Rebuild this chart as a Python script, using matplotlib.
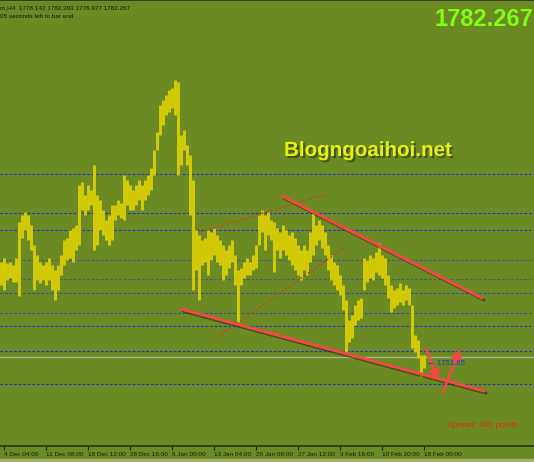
import matplotlib
matplotlib.use("Agg")
import matplotlib.pyplot as plt
import matplotlib.patheffects as pe
from matplotlib.patches import Rectangle

# ---------------- data (4H gold bars, one entry per drawn bar) ----------------
high = [1842.8, 1845.2, 1842.2, 1842.8, 1841.0, 1845.2, 1866.8, 1871.0, 1872.8, 1871.0,
        1865.0, 1853.0, 1847.0, 1842.8, 1841.0, 1842.8, 1845.2, 1841.0, 1838.0, 1841.0,
        1847.0, 1856.0, 1857.2, 1862.0, 1863.2, 1865.0, 1889.0, 1890.8, 1883.0, 1889.0,
        1886.0, 1901.0, 1883.0, 1880.0, 1874.0, 1868.0, 1871.0, 1877.0, 1877.0, 1880.0,
        1878.2, 1895.0, 1892.0, 1889.0, 1886.0, 1889.0, 1892.0, 1889.0, 1892.0, 1895.0,
        1899.2, 1910.0, 1920.8, 1937.0, 1940.0, 1943.0, 1946.0, 1947.2, 1952.0, 1950.8,
        1919.0, 1922.0, 1913.0, 1907.0, 1892.0, 1862.0, 1859.0, 1856.0, 1857.2, 1862.0,
        1860.8, 1863.2, 1859.0, 1856.0, 1853.0, 1850.0, 1853.0, 1856.0, 1847.0, 1838.0,
        1839.2, 1842.8, 1845.2, 1842.8, 1847.0, 1853.0, 1871.0, 1874.0, 1871.0, 1872.8,
        1868.0, 1866.8, 1863.2, 1860.8, 1865.0, 1862.0, 1859.0, 1860.8, 1857.2, 1853.0,
        1850.0, 1853.0, 1850.0, 1860.8, 1872.8, 1865.0, 1868.0, 1865.0, 1860.8, 1853.0,
        1847.0, 1842.8, 1841.0, 1835.0, 1829.0, 1820.0, 1808.0, 1811.0, 1817.0, 1820.0,
        1821.2, 1845.2, 1844.0, 1847.0, 1845.2, 1848.8, 1854.2, 1847.0, 1845.2, 1835.0,
        1829.0, 1826.0, 1827.2, 1830.2, 1826.0, 1829.0, 1827.2, 1817.0, 1799.0, 1796.0,
        1787.0, 1787.0]
low = [1829.0, 1826.0, 1832.0, 1833.2, 1830.8, 1830.8, 1822.4, 1857.2, 1862.0, 1856.0,
       1850.0, 1826.0, 1832.0, 1830.2, 1832.0, 1829.0, 1832.0, 1826.0, 1820.0, 1826.0,
       1835.0, 1841.0, 1844.0, 1845.2, 1842.8, 1850.0, 1853.0, 1874.0, 1871.0, 1874.0,
       1877.0, 1850.0, 1853.0, 1862.0, 1859.0, 1856.0, 1853.0, 1856.0, 1868.0, 1871.0,
       1869.2, 1868.0, 1877.0, 1874.0, 1874.0, 1877.0, 1880.0, 1874.0, 1880.0, 1883.0,
       1886.0, 1895.0, 1910.0, 1919.0, 1925.0, 1931.0, 1932.8, 1935.2, 1931.0, 1895.0,
       1901.0, 1910.0, 1901.0, 1871.0, 1826.0, 1838.0, 1820.0, 1841.0, 1842.8, 1835.0,
       1844.0, 1847.0, 1842.8, 1841.0, 1832.0, 1835.0, 1839.2, 1842.8, 1829.0, 1806.8,
       1829.0, 1833.2, 1835.0, 1835.0, 1838.0, 1839.2, 1853.0, 1860.8, 1850.0, 1859.0,
       1856.0, 1836.8, 1850.0, 1845.2, 1850.0, 1847.0, 1844.0, 1841.0, 1838.0, 1835.0,
       1832.0, 1838.0, 1835.0, 1842.8, 1847.0, 1853.0, 1856.0, 1851.2, 1847.0, 1838.0,
       1832.0, 1829.0, 1826.0, 1823.0, 1814.0, 1788.8, 1794.8, 1797.2, 1805.0, 1808.0,
       1809.2, 1826.0, 1830.8, 1833.2, 1832.0, 1836.8, 1835.0, 1833.2, 1829.0, 1821.2,
       1812.8, 1815.2, 1817.0, 1818.8, 1817.0, 1820.0, 1817.0, 1791.2, 1788.8, 1785.2,
       1773.8, 1779.2]

tick_labels = ["4 Dec 04:00", "11 Dec 08:00", "18 Dec 12:00", "28 Dec 16:00", "6 Jan 00:00",
               "13 Jan 04:00", "20 Jan 08:00", "27 Jan 12:00", "3 Feb 16:00", "10 Feb 20:00",
               "18 Feb 00:00"]
bars_per_label = 14

levels = [1895.6, 1872.2, 1862.0, 1844.0, 1832.6, 1824.2, 1812.2, 1804.4, 1789.4, 1769.6]
level_colors = ["#2233c8", "#2233c8", "#2233c8", "#4a5890", "#4a5890",
                "#3a48a8", "#3a48a8", "#2233c8", "#2233c8", "#2233c8"]
bid_price = 1785.8

trend_upper = ([93.7, 160.3], [1882.4, 1821.2])
trend_lower = ([60.0, 161.0], [1814.6, 1765.4])
dotted_upper = ([66.3, 108.7], [1860.8, 1883.6])
dotted_lower = ([72.3, 114.3], [1797.8, 1851.2])
arrow_down = ((141.7, 1790.6), (145.7, 1772.0))
arrow_up = ((147.3, 1764.8), (153.0, 1790.6))

header = "m,H4  1778.142 1782.393 1776.977 1782.267"
timer_text = "05 seconds left to bar end"
last_price = "1782.267"
watermark = "Blogngoaihoi.net"
level_label = "← 1751.65"
spread_text = "Spread: 300 points"

# ---------------- figure ----------------
W, H = 534, 462
BG = "#6b8a23"
fig = plt.figure(figsize=(W / 100, H / 100), dpi=100, facecolor=BG)
ax = fig.add_axes([0, 16 / H, 1, 446 / H])
ax.set_facecolor(BG)

n = len(high)
xs = list(range(n))
ax.set_xlim(-1 / 3, (W - 1) / 3)
ax.set_ylim(2000 - 0.6 * 446, 2000)

for lv, c in zip(levels, level_colors):
    ax.axhline(lv, color=c, lw=0.8, ls=(0, (2.5, 1.6)), zorder=1)
ax.axhline(bid_price, color="#a9b48e", lw=1.0, zorder=1)

ax.vlines(xs, low, high, color="#d4cb05", lw=2.1, zorder=3)

shadow = [pe.SimpleLineShadow(offset=(1.5, -1.5), shadow_color="#1c2a05", alpha=0.55), pe.Normal()]
red = "#ef4a45"
for (tx, ty) in (trend_upper, trend_lower):
    ax.plot(tx, ty, color=red, lw=2.2, solid_capstyle="round", zorder=5, path_effects=shadow)
for (tx, ty) in (dotted_upper, dotted_lower):
    ax.plot(tx, ty, color="#c44a1a", lw=1.1, ls=(0, (1.5, 1.5)), zorder=4)
for (start, end) in (arrow_down, arrow_up):
    ax.annotate("", xy=end, xytext=start, zorder=6,
                arrowprops=dict(arrowstyle="-|>,head_length=0.55,head_width=0.3",
                                color=red, lw=2.0, shrinkA=0, shrinkB=0))

ax.set_xticks([i * bars_per_label + 1 for i in range(len(tick_labels))])
ax.set_xticklabels(tick_labels, fontsize=4.6, family="Liberation Sans", color="#1a1a10")
for lab in ax.get_xticklabels():
    lab.set_horizontalalignment("left")
ax.tick_params(axis="x", direction="out", length=3, width=0.8, color="#202810", pad=1.5)
ax.set_yticks([])
for s in ("left", "right"):
    ax.spines[s].set_visible(False)
ax.spines["bottom"].set_color("#2a3510")
ax.spines["bottom"].set_linewidth(1.2)
ax.spines["top"].set_color("#2a3010")
ax.spines["top"].set_linewidth(1.2)

# texts
fig.text(0 / W, 1 - 9 / H, header, fontsize=4.6, family="Liberation Sans", color="#15150a")
fig.text(0 / W, 1 - 18 / H, timer_text, fontsize=4.6, family="Liberation Sans", color="#15150a")
fig.text(435 / W, 1 - 26 / H, last_price, fontsize=17, family="Liberation Sans",
         weight="bold", color="#80ff10")
fig.text(284 / W, 1 - 156 / H, watermark, fontsize=14.8, family="Liberation Sans", weight="bold",
         color="#e6f012",
         path_effects=[pe.withSimplePatchShadow(offset=(1.5, -1.5), shadow_rgbFace="#2a3808", alpha=0.6)])
fig.text(427 / W, 1 - 365 / H, level_label, fontsize=5.6, family="Liberation Sans", color="#2435c0")
fig.text(447 / W, 1 - 427 / H, spread_text, fontsize=6, family="Liberation Sans", color="#e42a10")

fig.patches.append(Rectangle((0, 0), 1, 3 / H, transform=fig.transFigure, color="#a0b070", zorder=0))

fig.savefig("out.png", dpi=100, facecolor=BG)
